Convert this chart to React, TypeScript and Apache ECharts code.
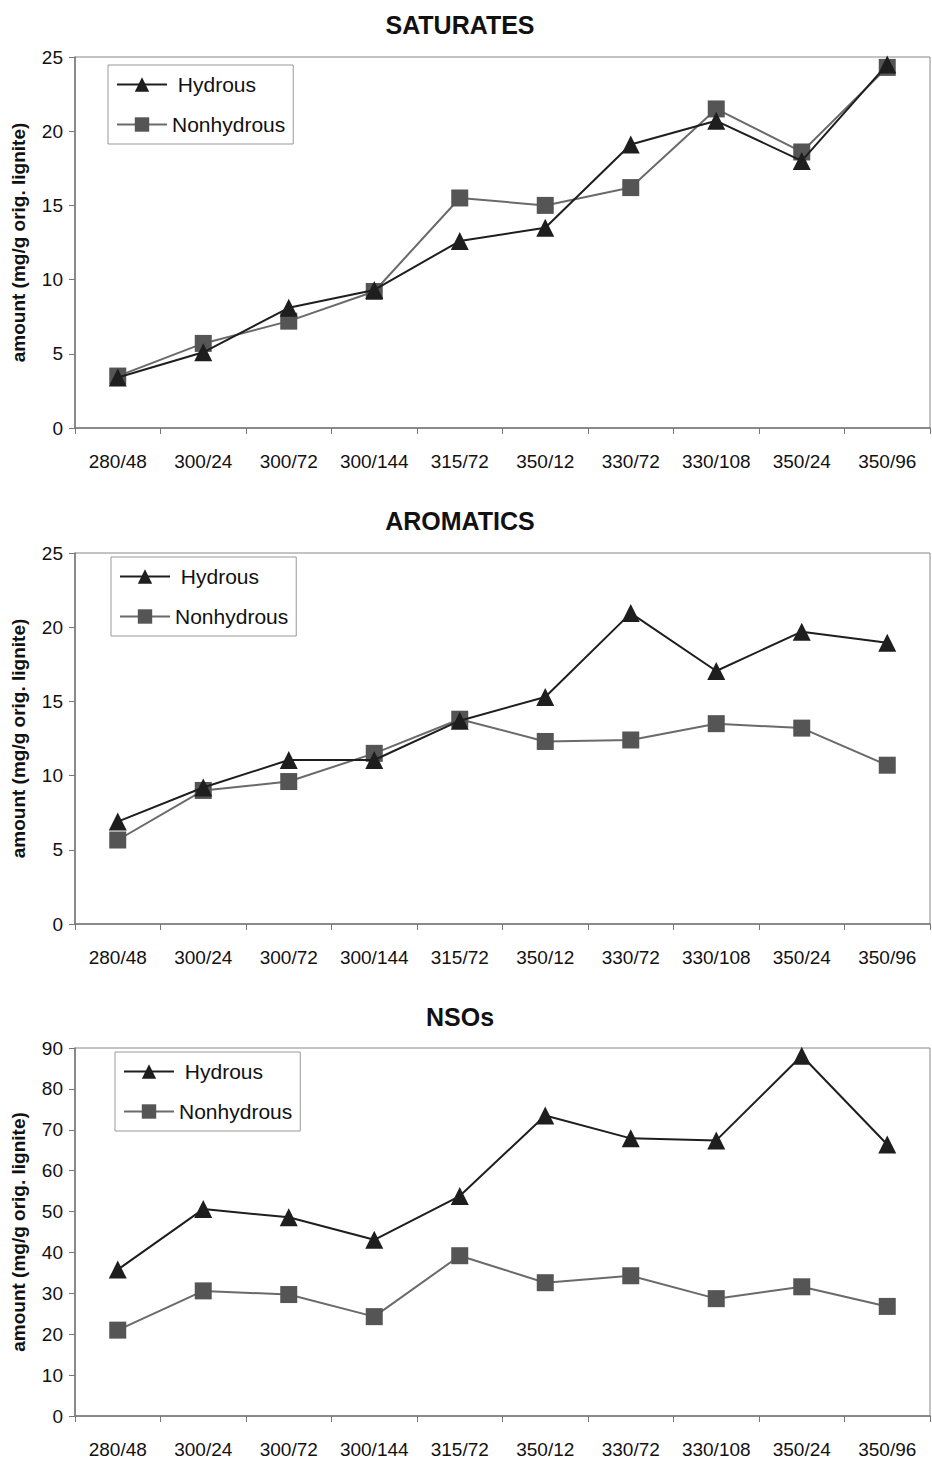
import React, { useEffect, useRef } from "react";
import * as echarts from "echarts";

const categories = ["280/48", "300/24", "300/72", "300/144", "315/72", "350/12", "330/72", "330/108", "350/24", "350/96"];

const satHydrous = [3.4, 5.1, 8.1, 9.3, 12.6, 13.5, 19.1, 20.7, 18.0, 24.5];
const satNonhydrous = [3.5, 5.7, 7.2, 9.2, 15.5, 15.0, 16.2, 21.5, 18.6, 24.3];

const aroHydrous = [6.9, 9.2, 11.05, 11.05, 13.7, 15.3, 20.95, 17.05, 19.7, 18.95];
const aroNonhydrous = [5.66, 9.0, 9.6, 11.5, 13.8, 12.3, 12.4, 13.5, 13.2, 10.7];

const nsoHydrous = [35.8, 50.6, 48.6, 43.1, 53.8, 73.5, 67.9, 67.4, 88.1, 66.4];
const nsoNonhydrous = [21.0, 30.6, 29.7, 24.3, 39.2, 32.6, 34.3, 28.7, 31.6, 26.8];

const titles = ["SATURATES", "AROMATICS", "NSOs"];
const yMax = [25, 25, 90];
const yInterval = [5, 5, 10];
const yName = "amount (mg/g orig. lignite)";

const FONT = "'Liberation Sans', Arial, sans-serif";

export default function App() {
  const ref = useRef<HTMLDivElement>(null);
  useEffect(() => {
    if (!ref.current) return;
    const chart = echarts.init(ref.current, undefined, { renderer: "svg" });
    const grids = [
      { top: 57, height: 371 },
      { top: 553, height: 371 },
      { top: 1048, height: 370 },
    ];
    const titleTops = [7, 503, 999];
    const legendPos = [
      { left: 108, top: 65 },
      { left: 111, top: 557 },
      { left: 115, top: 1052 },
    ];
    const hyd = [satHydrous, aroHydrous, nsoHydrous];
    const non = [satNonhydrous, aroNonhydrous, nsoNonhydrous];

    const option: any = {
      animation: false,
      backgroundColor: "#fff",
      title: titles.map((t, i) => ({
        text: t,
        left: 455,
        textAlign: "center",
        top: titleTops[i],
        textStyle: { fontFamily: FONT, fontWeight: "bold", fontSize: 25, color: "#111" },
      })),
      legend: [0, 1, 2].map((i) => ({
        orient: "vertical",
        left: legendPos[i].left,
        top: legendPos[i].top,
        data: ["Hydrous", "Nonhydrous"],
        formatter: (name: string) => (name === "Hydrous" ? "\u00a0Hydrous" : name),
        itemWidth: 50,
        itemHeight: 18,
        itemGap: 19,
        padding: [9, 8, 9, 8],
        borderColor: "#999",
        borderWidth: 1,
        backgroundColor: "#fff",
        selectedMode: false,
        textStyle: { fontFamily: FONT, fontSize: 21, color: "#111" },
      })),
      grid: grids.map((g) => ({
        left: 75,
        right: 2,
        top: g.top,
        height: g.height,
        show: true,
        borderColor: "#888",
        borderWidth: 1,
        backgroundColor: "transparent",
      })),
      xAxis: [0, 1, 2].map((i) => ({
        type: "category",
        gridIndex: i,
        data: categories,
        boundaryGap: true,
        axisLine: { lineStyle: { color: "#777", width: 1.5 } },
        axisTick: { show: true, inside: false, length: 6, lineStyle: { color: "#777" } },
        axisLabel: { fontFamily: FONT, fontSize: 19, color: "#111", margin: 24, interval: 0 },
        splitLine: { show: false },
      })),
      yAxis: [0, 1, 2].map((i) => ({
        type: "value",
        gridIndex: i,
        min: 0,
        max: yMax[i],
        interval: yInterval[i],
        name: yName,
        nameLocation: "middle",
        nameGap: 47,
        nameTextStyle: { fontFamily: FONT, fontWeight: "bold", fontSize: 19, color: "#111" },
        axisLine: { show: true, lineStyle: { color: "#777", width: 1.5 } },
        axisTick: { show: true, inside: false, length: 6, lineStyle: { color: "#777" } },
        axisLabel: { fontFamily: FONT, fontSize: 19, color: "#111", margin: 12 },
        splitLine: { show: false },
      })),
      series: [0, 1, 2].flatMap((i) => [
        {
          name: "Nonhydrous",
          type: "line",
          xAxisIndex: i,
          yAxisIndex: i,
          data: non[i],
          symbol: "rect",
          symbolSize: 17,
          lineStyle: { color: "#6a6a6a", width: 2 },
          itemStyle: { color: "#555" },
          z: 2,
        },
        {
          name: "Hydrous",
          type: "line",
          xAxisIndex: i,
          yAxisIndex: i,
          data: hyd[i],
          symbol: "triangle",
          symbolSize: 18,
          lineStyle: { color: "#1e1e1e", width: 2 },
          itemStyle: { color: "#1e1e1e" },
          z: 3,
        },
      ]),
    };
    chart.setOption(option);
    return () => chart.dispose();
  }, []);
  return (
    <div
      ref={ref}
      style={{ position: "absolute", left: 0, top: 0, width: 932, height: 1459, background: "#fff" }}
    />
  );
}
